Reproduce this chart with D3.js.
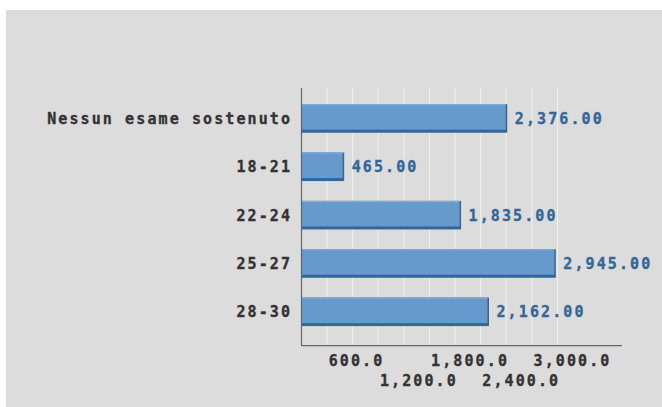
<!DOCTYPE html>
<html><head><meta charset="utf-8">
<script src="https://cdn.jsdelivr.net/npm/d3@7"></script>
<style>html,body{margin:0;padding:0;background:#fff;}svg{display:block;}</style>
</head><body>
<svg id="c" width="662" height="407"></svg>
<script>
const categories = ["Nessun esame sostenuto","18-21","22-24","25-27","28-30"];
const values = [2376, 465, 1835, 2945, 2162];
const tickValues = [600, 1200, 1800, 2400, 3000];
const gridValues = [300,600,900,1200,1500,1800,2100,2400,2700,3000];

const svg = d3.select("#c");
const W = 662, H = 407;
svg.append("rect").attr("x",6).attr("y",10).attr("width",W-6).attr("height",H-10).attr("fill","#dcdcdc");

const x = d3.scaleLinear().domain([0,3000]).range([301.5,557.5]);
const y = d3.scaleBand().domain(categories).range([94.3,336]).paddingInner(0.41).paddingOuter(0.205);
const font = "'DejaVu Sans Mono', monospace";
const ls = 2.1;
const fs = "15px";

function styleText(sel, color){
  sel.attr("fill",color).attr("stroke",color).attr("stroke-width",0.35)
    .style("font-family",font).style("font-weight","bold").style("font-size",fs)
    .style("letter-spacing",ls+"px");
}

// gridlines
svg.append("g").selectAll("line").data(gridValues).join("line")
  .attr("x1",d=>x(d)).attr("x2",d=>x(d)).attr("y1",88).attr("y2",345)
  .attr("stroke","#efefef").attr("stroke-width",1);

const depth = 3;
const bars = svg.append("g").selectAll("g").data(values).join("g");
bars.append("rect")
  .attr("x",x(0)).attr("y",(d,i)=>y(categories[i]))
  .attr("width",d=>x(d)-x(0)+depth).attr("height",y.bandwidth())
  .attr("fill","#336699");
bars.append("rect")
  .attr("x",x(0)).attr("y",(d,i)=>y(categories[i]))
  .attr("width",d=>x(d)-x(0)+depth-1.5).attr("height",y.bandwidth()-depth)
  .attr("fill","#6699cc");
bars.append("line")
  .attr("x1",x(0)).attr("x2",d=>x(d)+depth-1.5)
  .attr("y1",(d,i)=>y(categories[i])+0.5).attr("y2",(d,i)=>y(categories[i])+0.5)
  .attr("stroke","#8ab0d8").attr("stroke-width",1);

// value labels
const fmt = d3.format(",.2f");
svg.append("g").selectAll("text").data(values).join("text")
  .attr("x",d=>x(d)+depth+7.5).attr("y",(d,i)=>y(categories[i])+y.bandwidth()/2)
  .attr("dy","0.36em")
  .call(styleText,"#336699")
  .text(d=>fmt(d));

// category labels
svg.append("g").selectAll("text").data(categories).join("text")
  .attr("x",290+ls).attr("y",d=>y(d)+y.bandwidth()/2)
  .attr("dy","0.36em").attr("text-anchor","end")
  .call(styleText,"#333333")
  .text(d=>d);

// axes lines
svg.append("line").attr("x1",x(0)).attr("x2",x(0)).attr("y1",88).attr("y2",346)
  .attr("stroke","#666").attr("stroke-width",1.2);
svg.append("line").attr("x1",x(0)).attr("x2",622).attr("y1",345.7).attr("y2",345.7)
  .attr("stroke","#666").attr("stroke-width",1.2);

// x tick labels (staggered)
const tfmt = d3.format(",.1f");
svg.append("g").selectAll("text").data(tickValues).join("text")
  .attr("x",d=>x(d)-24).attr("y",(d,i)=> i%2===0 ? 361 : 381)
  .attr("dy","0.36em")
  .call(styleText,"#333333")
  .text(d=>tfmt(d));
</script>
</body></html>
